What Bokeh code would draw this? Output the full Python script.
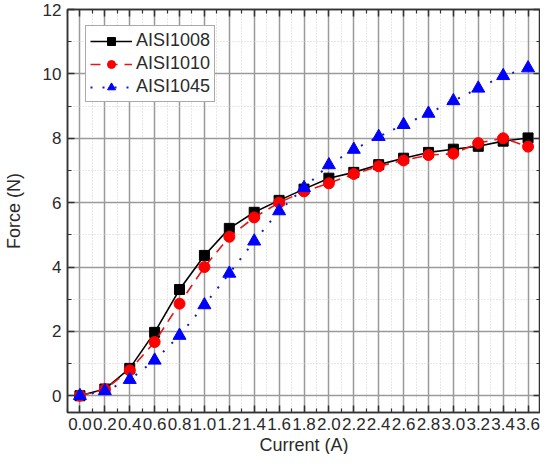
from bokeh.plotting import figure
from bokeh.models import Range1d, LinearAxis, FixedTicker, Legend, LegendItem, PrintfTickFormatter, Title
from bokeh.embed import file_html
from bokeh.resources import INLINE

current = [0.0, 0.2, 0.4, 0.6, 0.8, 1.0, 1.2, 1.4, 1.6, 1.8, 2.0, 2.2, 2.4, 2.6, 2.8, 3.0, 3.2, 3.4, 3.6]
aisi1008 = [0.0, 0.21, 0.85, 1.97, 3.3, 4.36, 5.2, 5.7, 6.07, 6.42, 6.76, 6.94, 7.18, 7.38, 7.56, 7.66, 7.75, 7.91, 8.01]
aisi1010 = [0.0, 0.2, 0.79, 1.67, 2.86, 4.0, 4.94, 5.54, 6.0, 6.35, 6.6, 6.89, 7.13, 7.31, 7.48, 7.52, 7.85, 8.0, 7.74]
aisi1045 = [0.0, 0.15, 0.5, 1.1, 1.87, 2.82, 3.8, 4.8, 5.74, 6.46, 7.17, 7.65, 8.05, 8.42, 8.77, 9.16, 9.55, 9.94, 10.18]

x_ticks = [0.0, 0.2, 0.4, 0.6, 0.8, 1.0, 1.2, 1.4, 1.6, 1.8, 2.0, 2.2, 2.4, 2.6, 2.8, 3.0, 3.2, 3.4, 3.6]
x_minor = [-0.1, 0.1, 0.3, 0.5, 0.7, 0.9, 1.1, 1.3, 1.5, 1.7, 1.9, 2.1, 2.3, 2.5, 2.7, 2.9, 3.1, 3.3, 3.5, 3.7]
y_ticks = [0, 2, 4, 6, 8, 10, 12]
y_minor = [1, 3, 5, 7, 9, 11]

FONT = "Liberation Sans"
TXT = "#2a2a2a"

p = figure(width=540, height=454, output_backend="svg", toolbar_location=None,
           x_range=Range1d(-0.1, 3.7), y_range=Range1d(-0.52, 12.0),
           min_border_left=57, min_border_right=0, min_border_top=9, min_border_bottom=10)
p.background_fill_color = "white"
p.border_fill_color = "white"
p.outline_line_color = "#333333"
p.outline_line_width = 1.5

xt = FixedTicker(ticks=x_ticks, minor_ticks=x_minor)
yt = FixedTicker(ticks=y_ticks, minor_ticks=y_minor)

for ax in p.xaxis:
    ax.ticker = xt
    ax.formatter = PrintfTickFormatter(format="%.1f")
for ax in p.yaxis:
    ax.ticker = yt

def style_axis(ax, labels=True):
    ax.axis_line_color = "#333333"
    ax.axis_line_width = 1.5
    ax.major_tick_in = 7
    ax.major_tick_out = 0
    ax.minor_tick_in = 4
    ax.minor_tick_out = 0
    ax.major_tick_line_color = "#333333"
    ax.minor_tick_line_color = "#333333"
    ax.major_tick_line_width = 1.5
    ax.minor_tick_line_width = 1.2
    ax.major_label_text_font = FONT
    ax.major_label_text_font_size = "17px"
    ax.major_label_text_color = TXT if labels else None
    ax.axis_label_text_font = FONT
    ax.axis_label_text_font_style = "normal"
    ax.axis_label_text_color = TXT
    ax.axis_label_text_font_size = "18px"

for ax in p.xaxis + p.yaxis:
    style_axis(ax)
p.yaxis.axis_label = "Force (N)"
p.xaxis.major_label_standoff = 5
p.yaxis.major_label_standoff = 6
p.yaxis.axis_label_standoff = 16

xlabel = Title(text="Current (A)", align="center", vertical_align="bottom", text_font=FONT,
               text_font_size="18px", text_font_style="normal", text_color=TXT, standoff=0, offset=0)
p.add_layout(xlabel, "below")

top = LinearAxis(ticker=xt)
right = LinearAxis(ticker=yt)
for ax in (top, right):
    style_axis(ax, labels=False)
    ax.major_label_text_font_size = "0px"
    ax.major_label_standoff = 0
p.add_layout(top, "above")
p.add_layout(right, "right")

for g in p.grid:
    g.grid_line_color = "#9a9a9a"
    g.grid_line_width = 1.5
    g.minor_grid_line_color = "#cfcfcf"
    g.minor_grid_line_dash = "1 2"
    g.minor_grid_line_width = 1
p.xgrid.ticker = xt
p.ygrid.ticker = yt

l1 = p.line(current, aisi1008, line_color="black", line_width=1.6)
s1 = p.scatter(current, aisi1008, marker="square", size=10, fill_color="black", line_color="black")
l2 = p.line(current, aisi1010, line_color="#e8141a", line_width=1.6, line_dash="10 7")
s2 = p.scatter(current, aisi1010, marker="circle", size=11, fill_color="#ff0000", line_color="#ff0000")
l3 = p.line(current, aisi1045, line_color="#1a1ab0", line_width=2, line_dash="2 10")
s3 = p.scatter(current, aisi1045, marker="triangle", size=13, fill_color="#0000ff", line_color="#0000ff")

legend = Legend(items=[
    LegendItem(label="AISI1008", renderers=[l1, s1]),
    LegendItem(label="AISI1010", renderers=[l2, s2]),
    LegendItem(label="AISI1045", renderers=[l3, s3]),
], location=(18, 310))
legend.label_text_font = FONT
legend.label_text_font_size = "18px"
legend.label_text_color = TXT
legend.border_line_color = "#555555"
legend.border_line_width = 1.2
legend.background_fill_alpha = 1
legend.glyph_width = 42
legend.glyph_height = 20
legend.spacing = 2
legend.padding = 4
legend.margin = 0
legend.label_standoff = 4
p.add_layout(legend, "center")

open("out.html", "w").write(file_html(p, INLINE))
